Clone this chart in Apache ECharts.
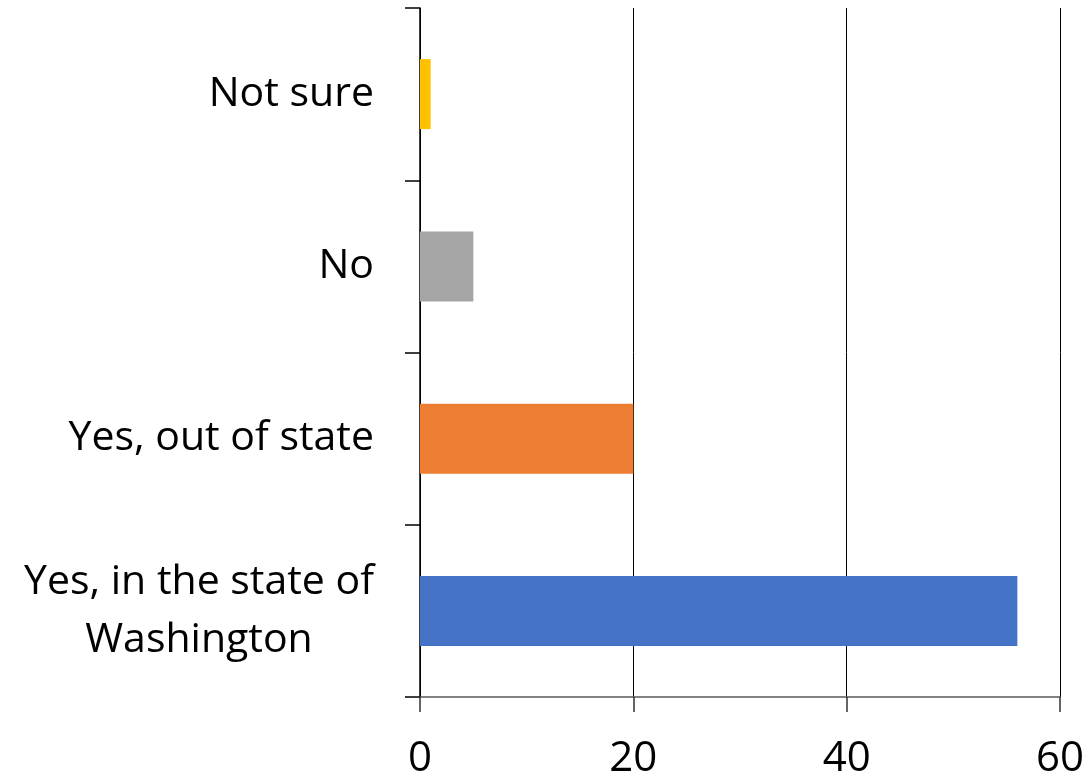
<!DOCTYPE html>
<html>
<head>
<meta charset="utf-8">
<script src="https://cdn.jsdelivr.net/npm/echarts@6/dist/echarts.min.js"></script>
<style>html,body{margin:0;padding:0;background:#fff}#c{width:1089px;height:782px}</style>
</head>
<body>
<div id="c"></div>
<script>
const categories = ['Yes, in the state of\nWashington', 'Yes, out of state', 'No', 'Not sure'];
const values = [56, 20, 5, 1];
const barColors = ['#4472C4', '#ED7D31', '#A5A5A5', '#FFC000'];
const xTicks = [0, 20, 40, 60];

const FONT = '"Open Sans", Lato, sans-serif';
const chart = echarts.init(document.getElementById('c'));
chart.setOption({
  animation: false,
  grid: { left: 420, right: 29, top: 8, bottom: 85, containLabel: false },
  xAxis: {
    type: 'value', min: xTicks[0], max: xTicks[xTicks.length - 1], interval: 20,
    axisLine: { show: true, lineStyle: { color: '#595959', width: 1.5 } },
    axisTick: { show: true, length: 15, lineStyle: { color: '#333', width: 1.5 } },
    splitLine: { show: true, lineStyle: { color: '#000', width: 1 } },
    axisLabel: { fontSize: 42, color: '#000', fontFamily: FONT, margin: 41 }
  },
  yAxis: {
    type: 'category', data: categories,
    axisLine: { show: true, lineStyle: { color: '#000', width: 1.5 } },
    axisTick: { show: true, length: 15, alignWithLabel: false, lineStyle: { color: '#000', width: 1.5 } },
    axisLabel: {
      margin: 46, color: '#000', fontSize: 41, fontFamily: FONT, align: 'right',
      formatter: function (v) { return v.split('\n').map(s => '{c|' + s + '}').join('\n'); },
      rich: { c: { align: 'center', fontSize: 41, lineHeight: 58, color: '#000', fontFamily: FONT } }
    }
  },
  series: [{
    type: 'bar', barWidth: 70,
    data: values.map((v, i) => ({ value: v, itemStyle: { color: barColors[i] } }))
  }]
});
</script>
</body>
</html>
